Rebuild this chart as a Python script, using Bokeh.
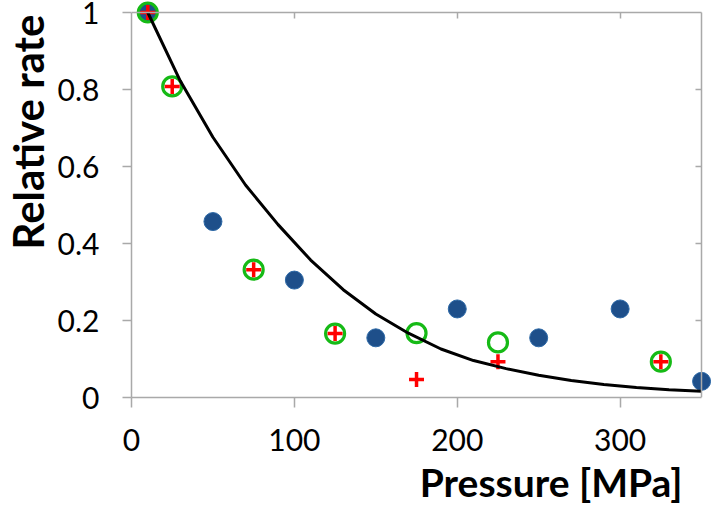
from bokeh.plotting import figure
from bokeh.models import Range1d, LinearAxis, FixedTicker, Title
from bokeh.embed import file_html
from bokeh.resources import INLINE

# ---- data ----
x_ticks = [0, 100, 200, 300]
x_tick_labels = ["0", "100", "200", "300"]
y_ticks = [0, 0.2, 0.4, 0.6, 0.8, 1]
y_tick_labels = ["0", "0.2", "0.4", "0.6", "0.8", "1"]

blue_x = [10, 50, 100, 150, 200, 250, 300, 350]
blue_y = [1.0, 0.457, 0.305, 0.155, 0.23, 0.155, 0.23, 0.042]

green_x = [10, 25, 75, 125, 175, 225, 325]
green_y = [1.0, 0.808, 0.332, 0.166, 0.167, 0.143, 0.093]

red_x = [10, 25, 75, 125, 175, 225, 325]
red_y = [1.0, 0.808, 0.332, 0.166, 0.047, 0.093, 0.093]

curve_x = [10, 30, 50, 70, 90, 110, 130, 150, 170, 190, 210, 230, 250, 270, 290, 310, 330, 350]
curve_y = [1.0, 0.822, 0.676, 0.552, 0.449, 0.357, 0.280, 0.217, 0.167, 0.126, 0.096,
           0.075, 0.058, 0.044, 0.034, 0.026, 0.020, 0.016]

x_title = "Pressure [MPa]"
y_title = "Relative rate"

# ---- styling ----
FONT = "Lato"
AXIS_COLOR = "#A9A9A9"
X_MAX = 356.1
Y_MAX = 1.0312

p = figure(frame_width=580, frame_height=397,
           x_range=Range1d(0, X_MAX), y_range=Range1d(0, Y_MAX),
           x_axis_type=None, y_axis_type=None,
           output_backend="svg", toolbar_location=None,
           min_border_left=131, min_border_right=0,
           min_border_top=0, min_border_bottom=113)
p.outline_line_color = None
p.background_fill_color = "white"
p.border_fill_color = "white"


def style_axis(ax, labels=True):
    ax.axis_line_color = AXIS_COLOR
    ax.axis_line_width = 1.5
    ax.major_tick_line_color = AXIS_COLOR
    ax.major_tick_line_width = 1.5
    ax.minor_tick_line_color = None
    if labels:
        ax.major_label_text_font = FONT
        ax.major_label_text_font_size = "30px"
        ax.major_label_text_color = "black"
    else:
        ax.major_label_standoff = 0


bottom = LinearAxis(ticker=FixedTicker(ticks=x_ticks),
                    major_label_overrides=dict(zip(x_ticks, x_tick_labels)),
                    bounds=(0, 350))
style_axis(bottom)
bottom.major_tick_out = 10
bottom.major_tick_in = 0
bottom.major_label_standoff = 21
p.add_layout(bottom, "below")

left = LinearAxis(ticker=FixedTicker(ticks=y_ticks),
                  major_label_overrides=dict(zip(y_ticks, y_tick_labels)),
                  bounds=(0, 1))
style_axis(left)
left.major_tick_out = 9
left.major_tick_in = 0
left.major_label_standoff = 23
p.add_layout(left, "left")

top = LinearAxis(ticker=FixedTicker(ticks=x_ticks[1:]), bounds=(0, 350),
                 major_label_overrides={t: "" for t in x_ticks[1:]},
                 fixed_location=1)
style_axis(top, labels=False)
top.major_tick_out = 0
top.major_tick_in = 6
p.add_layout(top, "above")

right = LinearAxis(ticker=FixedTicker(ticks=y_ticks[1:-1]), bounds=(0, 1),
                   major_label_overrides={t: "" for t in y_ticks[1:-1]},
                   fixed_location=350)
style_axis(right, labels=False)
right.major_tick_out = 0
right.major_tick_in = 6
p.add_layout(right, "right")

# ---- marks ----
p.scatter(blue_x, blue_y, marker="circle", size=18,
          fill_color="#1E4F8A", line_color="#2C68A6", line_width=1)
p.scatter(green_x, green_y, marker="circle", size=19,
          fill_color=None, line_color="#16BA16", line_width=3.2)
p.scatter(red_x, red_y, marker="cross", size=15,
          line_color="#FF0000", line_width=3.5)
p.line(curve_x, curve_y, line_color="black", line_width=3)

# ---- axis titles ----
p.add_layout(Title(text=y_title, align="right", offset=14, standoff=0,
                   vertical_align="top",
                   text_font=FONT, text_font_style="bold",
                   text_font_size="42px", text_color="black"), "left")
p.add_layout(Title(text=x_title, align="right", offset=29, standoff=6,
                   vertical_align="bottom",
                   text_font=FONT, text_font_style="bold",
                   text_font_size="39px", text_color="black"), "below")

open("out.html", "w").write(file_html(p, INLINE))
